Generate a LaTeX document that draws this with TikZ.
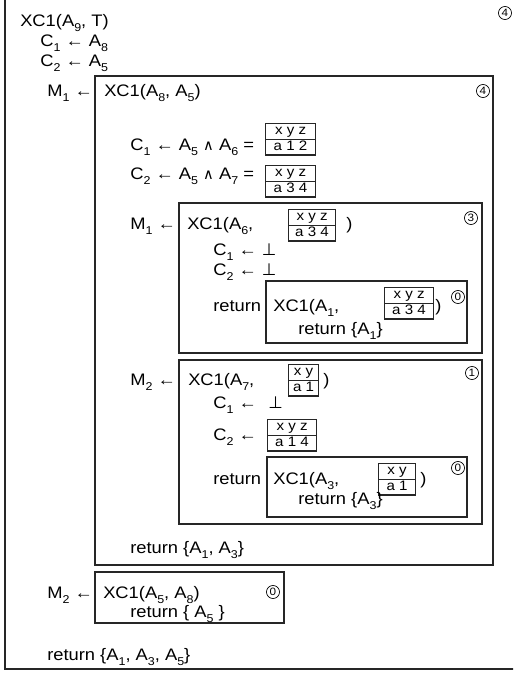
\documentclass[tikz,border=0pt]{standalone}
\usepackage{fontspec}
\setmainfont{Liberation Sans}[FakeStretch=1.1]
\newfontfamily\dv{DejaVu Sans}
\usetikzlibrary{shapes.multipart}
\newcommand\Sb[1]{\raisebox{-0.3em}{\fontsize{8.5}{8.5}\selectfont #1}}
\newcommand\Bt{{\dv ⊥}}
\newcommand\Wd{{\dv\fontsize{11}{11}\selectfont ∧}}
\newcommand\tst{\rule[-2.4pt]{0pt}{10pt}}
\tikzset{
  txt/.style={anchor=base west, inner sep=0pt, font=\fontsize{12.5}{14}\selectfont},
  box/.style={draw=black!85, line width=0.9pt},
  tbl/.style={draw=black!85, line width=0.8pt, rectangle split, rectangle split parts=2,
    inner xsep=2pt, inner ysep=0.5pt, anchor=north west, minimum width=#1*0.75pt,
    font=\fontsize{10.3}{11}\selectfont},
  circ/.style={circle, draw, inner sep=0pt, minimum size=9.8pt, line width=0.5pt,
    font=\fontsize{8}{8}\selectfont}
}
\begin{document}
\begin{tikzpicture}[x=0.75pt,y=-0.75pt]
\useasboundingbox (0,0) rectangle (513,673);
\clip (0,0) rectangle (513,673);
\fill[white] (0,0) rectangle (513,673);
% outer frame (top and right lie outside the picture)
\draw[box, line width=1pt] (5,-10) -- (5,669) -- (530,669);
\node[circ] (cfour) at (505,13) {4};
\node[txt] (l1) at (20,27) {XC1(A\Sb{9}, T)};
\node[txt] (l2) at (40,47) {C\Sb{1} ← A\Sb{8}};
\node[txt] (l3) at (40,67) {C\Sb{2} ← A\Sb{5}};
\node[txt] (l4) at (47,97) {M\Sb{1} ←};
% box 2
\draw[box] (95,76) rectangle (493,565);
\node[txt] (l5) at (104,97) {XC1(A\Sb{8}, A\Sb{5})};
\node[circ] (cfourb) at (483,91) {4};
\node[txt] (l6) at (130,151) {C\Sb{1} ← A\Sb{5} \Wd\ A\Sb{6} =};
\node[tbl=50] (t1) at (265,123) {\tst x y z\nodepart{two}\tst a 1 2};
\node[txt] (l7) at (130,180) {C\Sb{2} ← A\Sb{5} \Wd\ A\Sb{7} =};
\node[tbl=50] (t2) at (265,165) {\tst x y z\nodepart{two}\tst a 3 4};
\node[txt] (l8) at (130,230) {M\Sb{1} ←};
% box 3
\draw[box] (179,203) rectangle (482,353);
\node[txt] (l9) at (187,230) {XC1(A\Sb{6},};
\node[tbl=47] (t3) at (288,209) {\tst x y z\nodepart{two}\tst a 3 4};
\node[txt] (p3) at (346,230) {)};
\node[circ] (cthree) at (471,218) {3};
\node[txt] (l10) at (213,255) {C\Sb{1} ← \Bt};
\node[txt] (l11) at (213,275) {C\Sb{2} ← \Bt};
\node[txt] (l12) at (213,311) {return};
% box 4
\draw[box] (266,281) rectangle (467,343);
\node[txt] (l13) at (273,311) {XC1(A\Sb{1},};
\node[tbl=49] (t4) at (384,287) {\tst x y z\nodepart{two}\tst a 3 4};
\node[txt] (p4) at (435,311) {)};
\node[circ] (czeroa) at (458,297) {0};
\node[txt] (l14) at (298,334) {return \{A\Sb{1}\}};
% box 5
\draw[box] (179,360) rectangle (482,524);
\node[txt] (l15) at (130,385) {M\Sb{2} ←};
\node[txt] (l16) at (188,385) {XC1(A\Sb{7},};
\node[tbl=30] (t5) at (288,364) {\tst x y\nodepart{two}\tst a 1};
\node[txt] (p5) at (323,385) {)};
\node[circ] (cone) at (472,373) {1};
\node[txt] (l17) at (213,408) {C\Sb{1} ←};
\node[txt] (l17b) at (268,408) {\Bt};
\node[txt] (l18) at (213,440) {C\Sb{2} ←};
\node[tbl=49] (t6) at (267,419) {\tst x y z\nodepart{two}\tst a 1 4};
\node[txt] (l19) at (213,484) {return};
% box 7
\draw[box] (267,457) rectangle (467,517);
\node[txt] (l20) at (273,484) {XC1(A\Sb{3},};
\node[tbl=37] (t7) at (378,463) {\tst x y\nodepart{two}\tst a 1};
\node[txt] (p7) at (420,484) {)};
\node[circ] (czerob) at (458,468) {0};
\node[txt] (l21) at (298,504) {return \{A\Sb{3}\}};
\node[txt] (l22) at (130,553) {return \{A\Sb{1}, A\Sb{3}\}};
% box 8
\node[txt] (l23) at (47,598) {M\Sb{2} ←};
\draw[box] (95,572) rectangle (284,623);
\node[txt] (l24) at (103,598) {XC1(A\Sb{5}, A\Sb{8})};
\node[circ] (czeroc) at (273,592) {0};
\node[txt] (l25) at (130,617) {return \{ A\Sb{5} \}};
\node[txt] (l26) at (47,660) {return \{A\Sb{1}, A\Sb{3}, A\Sb{5}\}};
\end{tikzpicture}
\end{document}
